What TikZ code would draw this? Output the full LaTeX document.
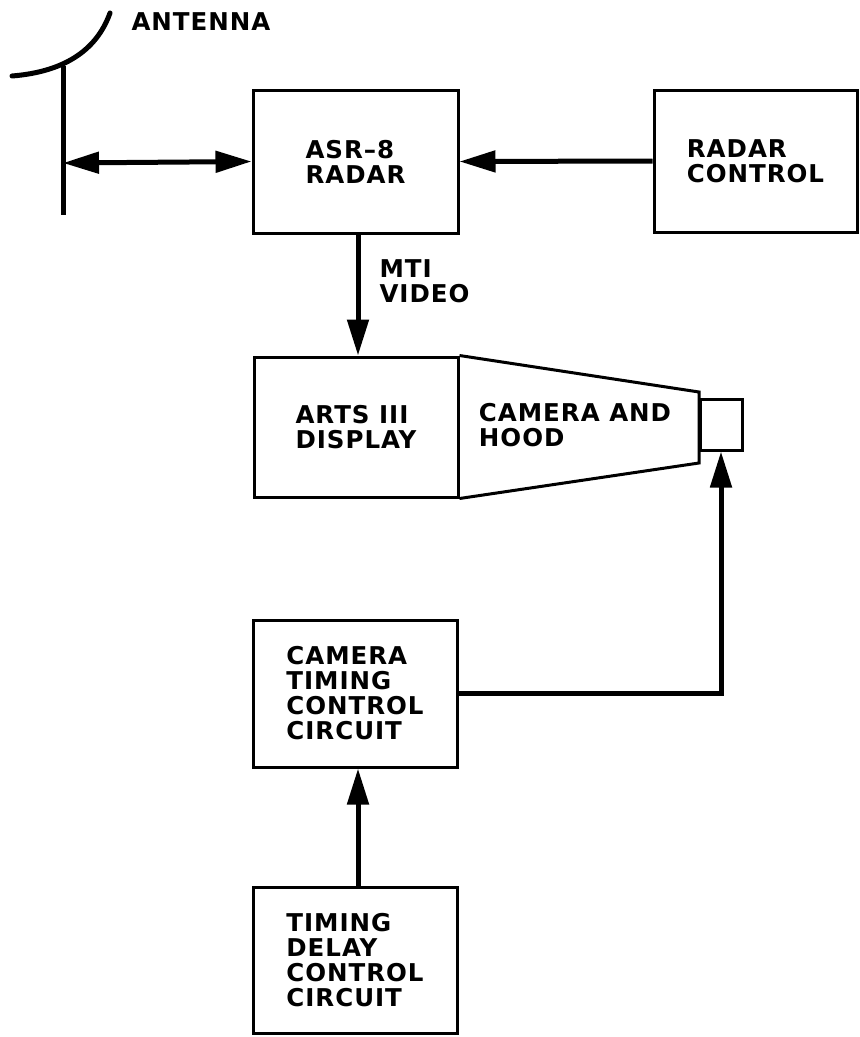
\documentclass[tikz,border=0pt]{standalone}
\usepackage{fontspec}
\usetikzlibrary{arrows.meta}
\newfontfamily\diagfont{DejaVu Sans}[LetterSpace=4]

\begin{document}
\begin{tikzpicture}[x=1pt, y=-1pt,
    every node/.style={font=\diagfont\bfseries\fontsize{24.5}{25}\selectfont},
    blockbox/.style={draw, rectangle, line width=3pt, align=left, inner sep=0pt},
    sigarrow/.style={line width=5pt, -{Triangle[length=36pt, width=21pt]}}]
    \useasboundingbox (0,0) rectangle (860,1037);
    % Boxes
    \node[blockbox, minimum width=205pt, minimum height=143pt] at (355.5,161.5) (radar) {ASR\textendash8\\RADAR};
    \node[blockbox, minimum width=203pt, minimum height=142pt] at (755.5,161) (radarctl) {RADAR\\CONTROL};
    \node[blockbox, minimum width=204pt, minimum height=140pt] at (356,427) (display) {ARTS III\\DISPLAY};
    \node[blockbox, minimum width=42pt, minimum height=51pt] at (721,424.5) (lens) {};
    \node[blockbox, minimum width=204pt, minimum height=147pt] at (355,693.5) (camtiming) {CAMERA\\TIMING\\CONTROL\\CIRCUIT};
    \node[blockbox, minimum width=204pt, minimum height=146pt] at (355,960) (delay) {TIMING\\DELAY\\CONTROL\\CIRCUIT};

    % Hood
    \coordinate (hoodtop) at (699,392);
    \coordinate (hoodbot) at (699,463);
    \draw[line width=3pt, line join=miter] (display.north east) -- (hoodtop) -- (hoodbot) -- (display.south east);
    \node[align=left] at (575,425) (hood) {CAMERA AND\\HOOD};

    % Antenna
    \coordinate (masttop) at (63,66);
    \coordinate (mastbot) at (63,215);
    \coordinate (feed) at (63,163);
    \draw[line width=5pt, line cap=round] (12,76) .. controls (62,72) and (96,52) .. (110,13);
    \draw[line width=5pt] (masttop) -- (mastbot);
    \node[anchor=west] at (128,22) (antenna) {ANTENNA};

    % Labels
    \node[anchor=west, align=left] at (376,281) (mti) {MTI\\VIDEO};

    % Arrows
    \draw[sigarrow, {Triangle[length=36pt, width=21pt]}-{Triangle[length=36pt, width=21pt]}] (feed) -- (radar.west);
    \draw[sigarrow] (radarctl.west) -- (radar.east);
    \draw[sigarrow] (radar.south) ++(2.5,0) coordinate (mtitop) -- (mtitop |- display.north);
    \draw[sigarrow] (camtiming.east) -| (lens.south);
    \draw[sigarrow] (delay.north) ++(3,0) coordinate (delaytop) -- (delaytop |- camtiming.south);
\end{tikzpicture}
\end{document}
